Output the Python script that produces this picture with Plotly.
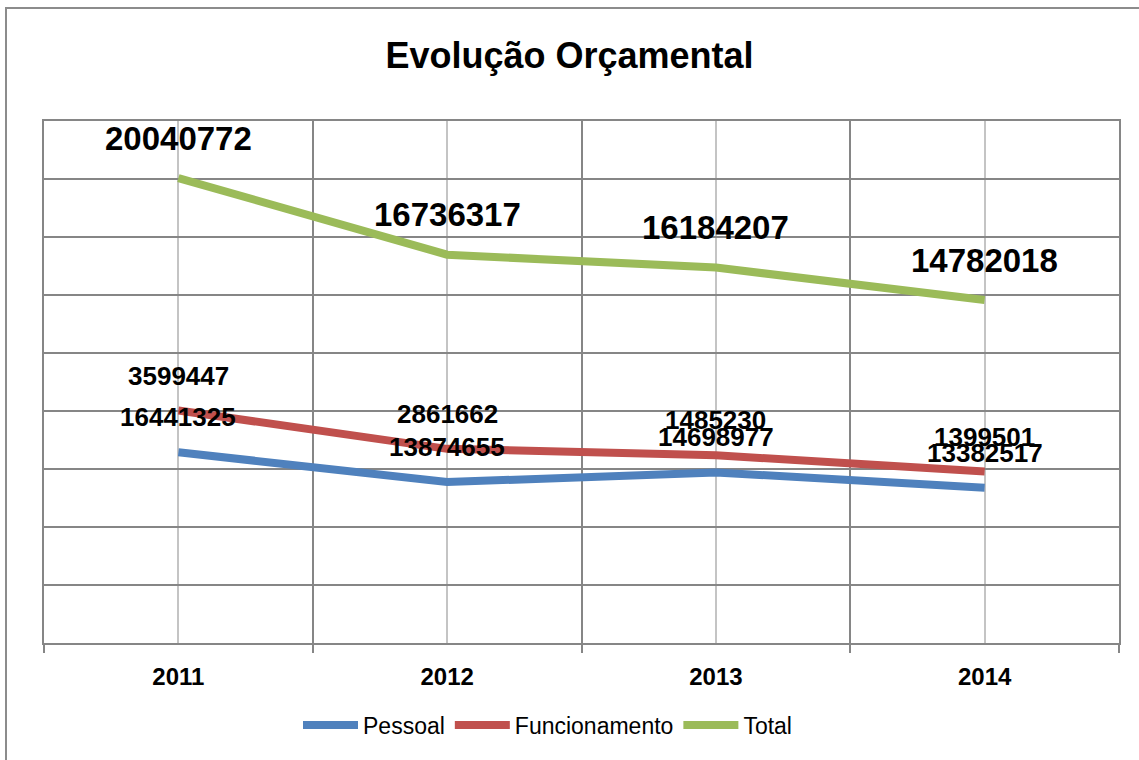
import plotly.graph_objects as go
import numpy as np

years = ["2011", "2012", "2013", "2014"]
pessoal = [16441325, 13874655, 14698977, 13382517]
funcionamento = [3599447, 2861662, 1485230, 1399501]
total = [20040772, 16736317, 16184207, 14782018]

series_names = ["Pessoal", "Funcionamento", "Total"]
series_values = [pessoal, funcionamento, total]
colors = ["#4F81BD", "#C0504D", "#9BBB59"]

# stacked line chart (Excel "stacked line")
stacked = np.cumsum(np.array(series_values, dtype=float), axis=0)
xs = list(range(len(years)))

W, H = 1139, 760
L, R, T, B = 44, 20, 121, 117
pw, ph = W - L - R, H - T - B

fig = go.Figure()
for name, ys, c in zip(series_names, stacked, colors):
    fig.add_trace(go.Scatter(x=xs, y=ys, mode="lines", name=name,
                             line=dict(color=c, width=8),
                             hoverinfo="skip"))

annotations = []
for si, (vals, ys) in enumerate(zip(series_values, stacked)):
    big = si == 2
    for i, (v, yv) in enumerate(zip(vals, ys)):
        annotations.append(dict(
            x=i, y=yv, xref="x", yref="y", text=f"<b>{v}</b>", showarrow=False,
            yanchor="middle", xanchor="center", yshift=40 if big else 35,
            font=dict(family="Liberation Sans", size=33 if big else 26, color="black")))

grid_dark = "#868686"
fig.update_layout(
    width=W, height=H,
    margin=dict(l=L, r=R, t=T, b=B),
    paper_bgcolor="white", plot_bgcolor="white",
    title=dict(text="<b>Evolução Orçamental</b>", x=0.5, xanchor="center",
               y=1 - 55 / H, yanchor="middle", yref="container",
               font=dict(family="Liberation Sans", size=36, color="black")),
    xaxis=dict(range=[-0.5, 3.5], tickvals=xs, ticktext=[f"<b>{y}</b>" for y in years],
               showgrid=True, gridcolor="#C4C4C4", gridwidth=1.5, ticks="",
               tickfont=dict(family="Liberation Sans", size=24, color="black"),
               ticklabelstandoff=11,
               minor=dict(tickvals=[-0.5, 0.5, 1.5, 2.5, 3.5], showgrid=True,
                          gridcolor=grid_dark, gridwidth=1.5, ticks="outside",
                          ticklen=8, tickcolor=grid_dark, tickwidth=1.5),
               showline=True, linecolor=grid_dark, linewidth=1.5, mirror=True,
               zeroline=False, fixedrange=True),
    yaxis=dict(range=[0, 45e6], dtick=5e6, showticklabels=False, showgrid=True,
               gridcolor=grid_dark, gridwidth=1.5, showline=True, linecolor=grid_dark,
               linewidth=1.5, mirror=True, zeroline=False, ticks="", fixedrange=True),
    legend=dict(orientation="h", x=(298 - L) / pw, xanchor="left",
                y=-(725 - (H - B)) / ph, yanchor="middle",
                font=dict(family="Liberation Sans", size=23, color="black"),
                itemwidth=55, bgcolor="rgba(0,0,0,0)"),
    annotations=annotations,
    shapes=[dict(type="rect", xref="paper", yref="paper",
                 x0=(6 - L) / pw, x1=1.2, y0=-0.5, y1=(H - B - 8) / ph,
                 line=dict(color="#8C8C8C", width=2), layer="below")],
)

fig.write_html("out.html", config={"displayModeBar": False},
               post_script="document.body.style.margin='0';document.body.style.overflow='hidden';")
